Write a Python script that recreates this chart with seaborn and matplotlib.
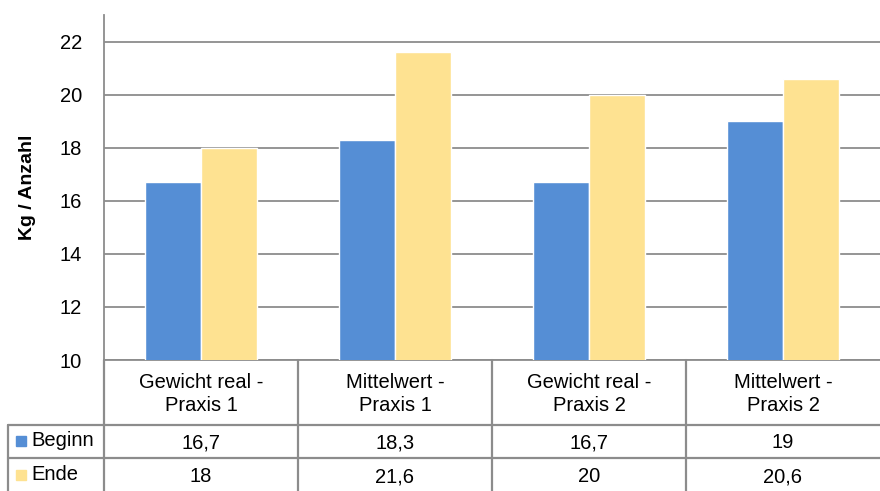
import numpy as np
import pandas as pd
import matplotlib
matplotlib.use("Agg")
import matplotlib.pyplot as plt
import seaborn as sns

# data
categories = ["Gewicht real -\nPraxis 1", "Mittelwert -\nPraxis 1",
              "Gewicht real -\nPraxis 2", "Mittelwert -\nPraxis 2"]
beginn = [16.7, 18.3, 16.7, 19]
ende = [18, 21.6, 20, 20.6]
series = ["Beginn", "Ende"]
colors = ["#558ed5", "#fee291"]

df = pd.DataFrame({"Kategorie": categories * 2,
                   "Serie": ["Beginn"] * 4 + ["Ende"] * 4,
                   "Wert": beginn + ende})

sns.set_theme(style="white")
plt.rcParams["font.family"] = ["Liberation Sans", "DejaVu Sans"]
plt.rcParams["text.color"] = "black"
plt.rcParams["axes.labelcolor"] = "black"
plt.rcParams["ytick.color"] = "black"
fs = 14.5

W, H = 880, 491
fig = plt.figure(figsize=(8.8, 4.91), dpi=100)
ax = fig.add_axes([104 / W, 1 - 360 / H, 1 - 104 / W, 345 / H])

sns.barplot(data=df, x="Kategorie", y="Wert", hue="Serie", palette=colors,
            width=0.58, saturation=1, ax=ax, legend=False, zorder=3)
ax.set_ylim(10, 23)
ax.set_xlim(-0.5, 3.5)
ax.set_yticks(range(10, 23, 2))
ax.tick_params(axis="y", length=0, labelsize=fs, pad=16)
ax.set_xticks([])
ax.set_xlabel("")
ax.set_ylabel("Kg / Anzahl", fontsize=fs - 0.5, fontweight="bold", labelpad=17)
ax.grid(axis="y", color="#8c8c8c", lw=1.3, zorder=0)
for s in ["top", "right"]:
    ax.spines[s].set_visible(False)
for s in ["left", "bottom"]:
    ax.spines[s].set_color("#8c8c8c")
    ax.spines[s].set_linewidth(1.3)

# data table underneath (pixel coordinates)
tab = fig.add_axes([0, 0, 1, 360 / H])
tab.set_xlim(0, W)
tab.set_ylim(H, 131)
tab.axis("off")
lc = "#8c8c8c"
col_w = (W - 104) / len(categories)
edges = [104 + i * col_w for i in range(len(categories) + 1)]
for x in edges[:-1]:
    tab.plot([x, x], [360, H], color=lc, lw=1.6)
tab.plot([8, 8], [425, H], color=lc, lw=1.6)
tab.plot([8, W], [425, 425], color=lc, lw=1.6)
tab.plot([8, W], [458, 458], color=lc, lw=1.6)

for i, cat in enumerate(categories):
    cx = (edges[i] + edges[i + 1]) / 2
    tab.text(cx, 394, cat, ha="center", va="center", fontsize=fs,
             linespacing=1.3)
    for r, vals in enumerate([beginn, ende]):
        txt = f"{vals[i]:g}".replace(".", ",")
        tab.text(cx, 443 + r * 34, txt, ha="center", va="center", fontsize=fs)

for r, name in enumerate(series):
    y = 441 + r * 34
    tab.add_patch(plt.Rectangle((16, y - 5), 10, 10, color=colors[r]))
    tab.text(31, y, name, ha="left", va="center", fontsize=fs)

fig.savefig("out.png", dpi=100)
